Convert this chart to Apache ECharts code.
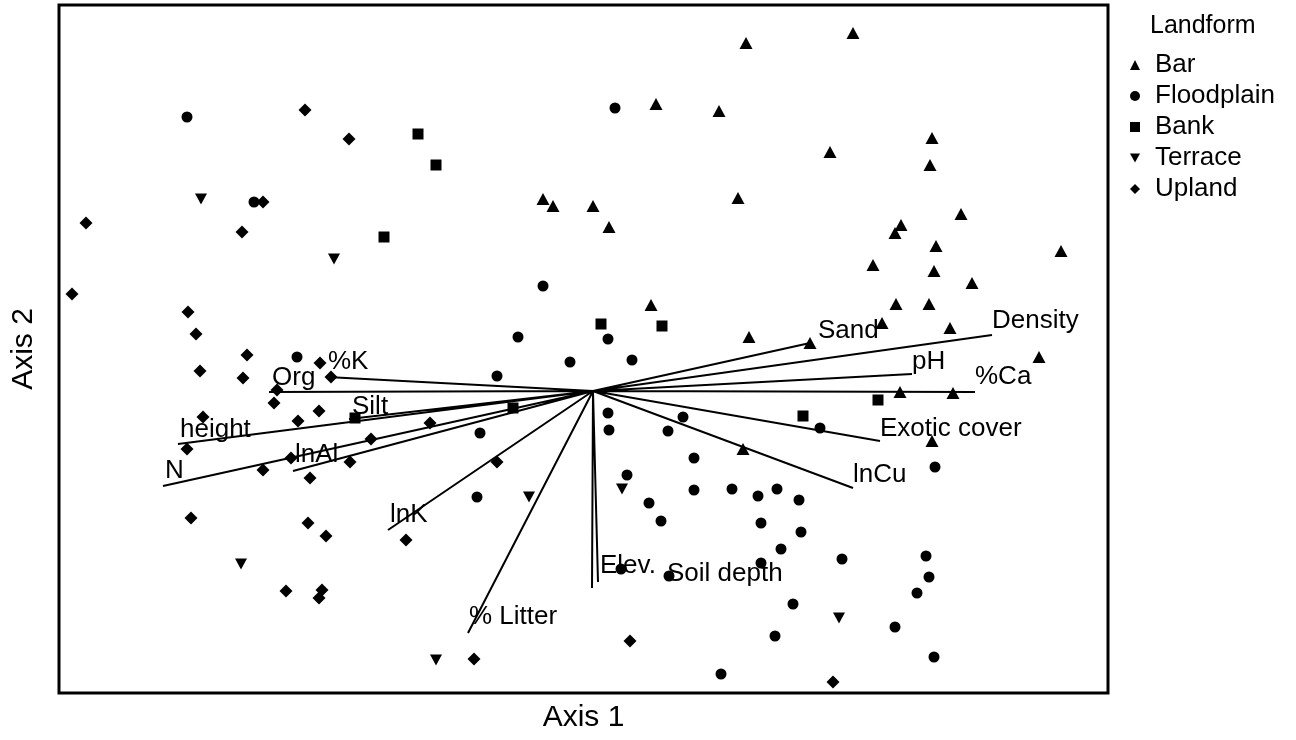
<!DOCTYPE html>
<html><head><meta charset="utf-8">
<script src="https://cdn.jsdelivr.net/npm/echarts@6/dist/echarts.min.js"></script>
<style>html,body{margin:0;padding:0;background:#fff}#c{width:1296px;height:740px}</style>
</head><body><div id="c"></div>
<script>
// Ordination scores (Axis 1, Axis 2)
const landforms = ['Bar', 'Floodplain', 'Bank', 'Terrace', 'Upland'];

const barPts = [
  [1.53,3.48],[0.63,2.87],[1.26,2.80],[2.60,3.58],[3.39,2.53],[2.37,2.39],[3.37,2.26],
  [-0.50,1.92],[-0.40,1.85],[0.00,1.85],[0.16,1.64],[1.45,1.93],[3.68,1.77],[3.08,1.66],
  [3.02,1.58],[3.43,1.45],[4.68,1.40],[2.80,1.26],[3.41,1.20],[3.79,1.08],[3.03,0.87],
  [3.36,0.87],[0.58,0.86],[2.89,0.68],[3.57,0.63],[1.56,0.54],[2.17,0.48],[4.46,0.34],
  [3.07,-0.01],[3.60,-0.02],[3.39,-0.50],[1.50,-0.58]
];
const floodplainPts = [
  [-4.06,2.74],[-3.39,1.89],[0.22,2.83],[-0.50,1.05],[-0.75,0.54],[0.15,0.52],[-0.23,0.29],
  [0.39,0.31],[-0.96,0.15],[-2.96,0.34],[-1.13,-0.42],[-1.16,-1.06],[0.15,-0.22],[0.16,-0.39],
  [0.75,-0.40],[0.90,-0.26],[2.27,-0.37],[1.01,-0.67],[0.34,-0.84],[1.01,-0.99],[1.39,-0.98],
  [1.65,-1.05],[1.84,-0.98],[2.06,-1.09],[0.56,-1.12],[0.68,-1.30],[1.68,-1.32],[2.08,-1.41],
  [1.88,-1.58],[1.68,-1.72],[0.76,-1.85],[0.28,-1.78],[2.00,-2.13],[1.82,-2.45],[1.28,-2.83],
  [3.42,-0.76],[2.49,-1.68],[3.33,-1.65],[3.36,-1.86],[3.24,-2.02],[3.02,-2.36],[3.41,-2.66]
];
const bankPts = [
  [-1.75,2.57],[-1.57,2.26],[-2.09,1.54],[0.08,0.67],[0.69,0.65],[-2.38,-0.27],
  [-0.80,-0.17],[2.10,-0.25],[2.85,-0.09]
];
const terracePts = [
  [-3.92,1.92],[-2.59,1.32],[-3.52,-1.73],[-1.57,-2.69],[-0.64,-1.06],[0.29,-0.98],[2.46,-2.27]
];
const uplandPts = [
  [-2.88,2.81],[-2.44,2.52],[-3.30,1.89],[-5.07,1.68],[-3.51,1.59],[-5.21,0.97],[-4.05,0.79],
  [-3.97,0.57],[-3.46,0.36],[-2.73,0.28],[-3.93,0.20],[-3.50,0.13],[-2.62,0.14],[-3.16,0.01],
  [-3.19,-0.12],[-2.74,-0.20],[-3.90,-0.26],[-2.95,-0.30],[-4.06,-0.58],[-1.63,-0.32],
  [-2.22,-0.48],[-3.02,-0.67],[-3.30,-0.79],[-2.43,-0.71],[-2.83,-0.87],[-4.02,-1.27],
  [-2.85,-1.32],[-2.67,-1.45],[-1.87,-1.49],[-0.96,-0.71],[-3.07,-2.00],[-2.71,-1.99],
  [-2.74,-2.07],[0.37,-2.50],[-1.19,-2.68],[2.40,-2.91]
];

// Environmental vectors (biplot)
const vectorNames = ['Sand','Density','pH','%Ca','Exotic cover','lnCu','Soil depth','Elev.',
  '% Litter','lnK','N','height','lnAl','Silt','Org','%K'];
const vectorX = [2.17, 3.99, 3.19, 3.82, 2.87, 2.60, 0.05, -0.01, -1.25, -2.05, -4.30, -4.15, -3.00, -2.44, -3.24, -2.66];
const vectorY = [0.48, 0.56, 0.17, -0.01, -0.50, -0.97, -1.91, -1.97, -2.42, -1.39, -0.95, -0.53, -0.80, -0.28, -0.01, 0.14];

// label placement (pixels, relative to vector tip) - styling only
const labelOffsets = [[8,-12],[0,-14],[0,-12],[0,-15],[0,-12],[0,-13],[69,-8],[8,-22],
  [1,-16],[2,-15],[2,-15],[2,-14],[2,-16],[3,-12],[3,-14],[1,-15]];

const FONT = 'Liberation Sans, Arial, sans-serif';
const DOWN_TRI = 'path://M0,0 L12,0 L6,11 Z';

const vecLineData = [];
vectorNames.forEach((n, i) => { vecLineData.push([0, 0]); vecLineData.push([vectorX[i], vectorY[i]]); });

const vecLabelData = vectorNames.map((n, i) => ({
  name: n,
  value: [vectorX[i], vectorY[i]],
  label: { position: labelOffsets[i] }
}));

function ptSeries(name, data, symbol, size) {
  return {
    name, type: 'scatter', data, symbol, symbolSize: size,
    itemStyle: { color: '#000', opacity: 1 }, z: 2
  };
}

const chart = echarts.init(document.getElementById('c'));
chart.setOption({
  animation: false,
  backgroundColor: '#fff',
  textStyle: { fontFamily: FONT },
  title: {
    text: 'Landform', left: 1150, top: 14, padding: 0,
    textStyle: { fontFamily: FONT, fontSize: 25, fontWeight: 'normal', color: '#000' }
  },
  legend: {
    data: [
      { name: 'Bar', icon: 'triangle' },
      { name: 'Floodplain', icon: 'circle' },
      { name: 'Bank', icon: 'rect' },
      { name: 'Terrace', icon: DOWN_TRI },
      { name: 'Upland', icon: 'diamond' }
    ],
    orient: 'vertical', left: 1130, top: 52, padding: 0,
    itemWidth: 10, itemHeight: 10, itemGap: 5,
    textStyle: { fontFamily: FONT, fontSize: 26, color: '#000', padding: [0, 0, 0, 10] }
  },
  grid: {
    left: 59, right: 188, top: 5, bottom: 47, show: true,
    borderColor: '#000', borderWidth: 3, backgroundColor: '#fff'
  },
  xAxis: {
    type: 'value', min: -5.34, max: 5.15,
    axisLine: { show: false }, axisTick: { show: false }, axisLabel: { show: false }, splitLine: { show: false },
    name: 'Axis 1', nameLocation: 'middle', nameGap: 10,
    nameTextStyle: { fontFamily: FONT, fontSize: 30, color: '#000' }
  },
  yAxis: {
    type: 'value', min: -3.02, max: 3.86,
    axisLine: { show: false }, axisTick: { show: false }, axisLabel: { show: false }, splitLine: { show: false },
    name: 'Axis 2', nameLocation: 'middle', nameGap: 20,
    nameTextStyle: { fontFamily: FONT, fontSize: 30, color: '#000' }
  },
  series: [
    ptSeries('Bar', barPts, 'triangle', [13, 12]),
    ptSeries('Floodplain', floodplainPts, 'circle', 11),
    ptSeries('Bank', bankPts, 'rect', 11),
    ptSeries('Terrace', terracePts, DOWN_TRI, [12, 11]),
    ptSeries('Upland', uplandPts, 'diamond', [13, 13]),
    {
      name: 'vectors', type: 'line', data: vecLineData, showSymbol: false, symbol: 'none',
      lineStyle: { color: '#000', width: 2 }, z: 3, silent: true
    },
    {
      name: 'vectorLabels', type: 'scatter', data: vecLabelData, symbolSize: 0.01,
      itemStyle: { color: '#000', opacity: 1 }, z: 4, silent: true,
      label: {
        show: true, formatter: '{b}', align: 'left', verticalAlign: 'middle',
        fontFamily: FONT, fontSize: 26, color: '#000', opacity: 1
      }
    }
  ]
});
</script>
</body></html>
